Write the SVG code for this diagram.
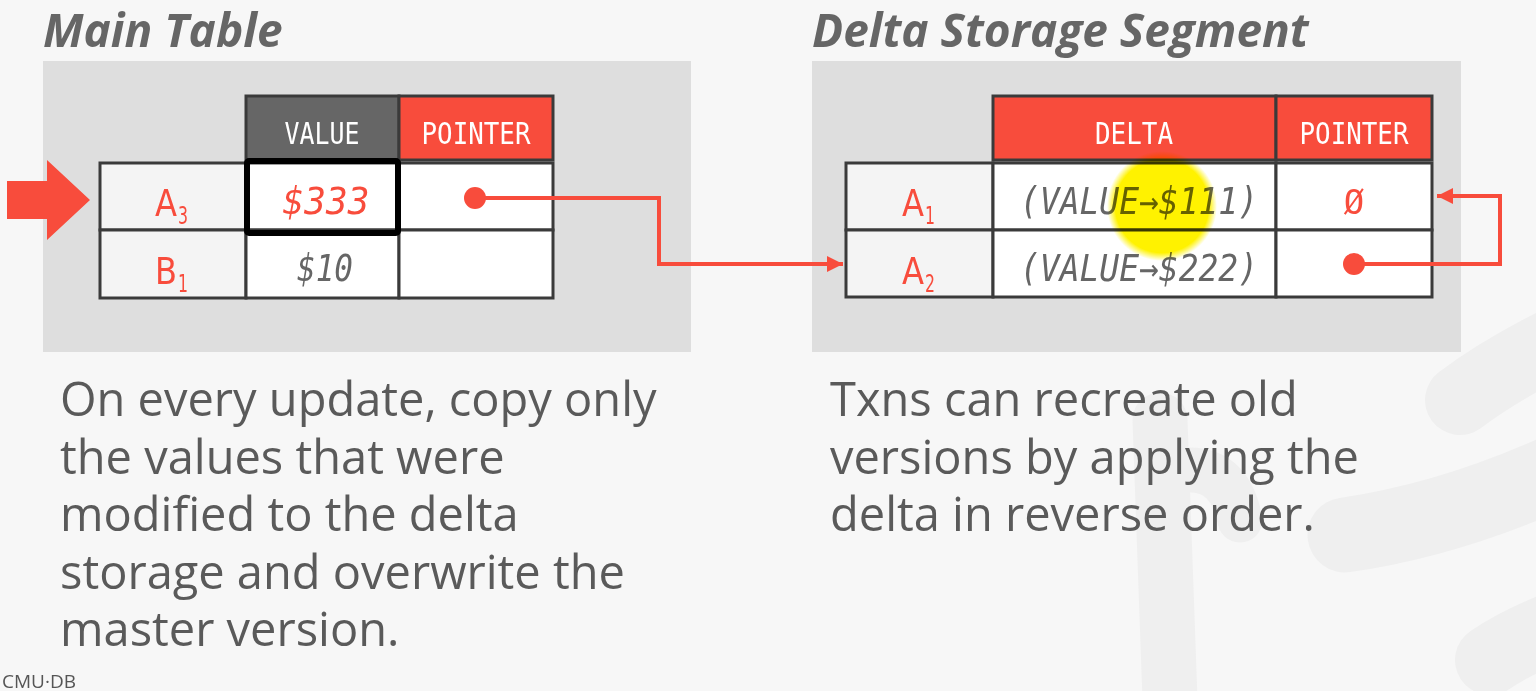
<svg xmlns="http://www.w3.org/2000/svg" width="1536" height="691" viewBox="0 0 1536 691">
<style>
.title{font-family:"Open Sans","Liberation Sans",sans-serif;font-weight:bold;font-style:italic;font-size:46px;fill:#666}
.panel{fill:#dedede}
.cell{fill:#fff;stroke:#3a3a3a;stroke-width:3}
.keycell{fill:#f4f4f4;stroke:#3a3a3a;stroke-width:3}
.hdr{font-family:"DejaVu Sans Mono","Liberation Mono",monospace;font-size:31px;fill:#fff;text-anchor:middle}
.key{font-family:"DejaVu Sans","Liberation Sans",sans-serif;font-size:37px;fill:#f84c3c}
.sub{font-family:"DejaVu Sans","Liberation Sans",sans-serif;font-size:24px;fill:#f84c3c}
.val{font-family:"DejaVu Sans Mono","Liberation Mono",monospace;font-style:italic;font-size:37px;fill:#666;text-anchor:middle}
.body{font-family:"Open Sans","Liberation Sans",sans-serif;font-size:47px;fill:#5a5a5a}
.conn{fill:none;stroke:#f84c3c;stroke-width:4;stroke-linejoin:miter}
.wm{fill:none;stroke:#efefef;stroke-linecap:round}
</style>
<defs>
<marker id="arr" viewBox="0 0 10 10" refX="10" refY="5" markerWidth="4" markerHeight="4" markerUnits="strokeWidth" orient="auto">
<path d="M0,0 L10,5 L0,10 z" fill="#f84c3c"/>
</marker>
<radialGradient id="hl" cx="0.5" cy="0.5" r="0.5">
<stop offset="0" stop-color="#fff200"/>
<stop offset="0.85" stop-color="#fff200"/>
<stop offset="1" stop-color="#fff200" stop-opacity="0"/>
</radialGradient>
</defs>
<rect width="1536" height="691" fill="#f7f7f7"/>
<g id="watermark">
<path class="wm" d="M1460,400 Q1500,370 1560,340" stroke-width="70"/>
<path class="wm" d="M1345,535 Q1450,520 1560,470" stroke-width="75"/>
<path class="wm" d="M1490,660 Q1520,640 1560,625" stroke-width="70"/>
<path class="wm" d="M1160,420 L1170,700" stroke-width="55"/>
<path class="wm" d="M1190,470 Q1230,470 1240,520" stroke-width="45"/>
</g>
<g id="main-table">
<text class="title" x="43" y="47">Main Table</text>
<rect class="panel" x="43" y="61" width="648" height="291"/>
<rect x="246" y="96" width="153" height="64" fill="#666" stroke="#3a3a3a" stroke-width="3"/>
<rect x="399" y="96" width="154" height="64" fill="#f84c3c" stroke="#3a3a3a" stroke-width="3"/>
<text class="hdr" x="322" y="144" textLength="75" lengthAdjust="spacingAndGlyphs">VALUE</text>
<text class="hdr" x="476" y="144" textLength="109" lengthAdjust="spacingAndGlyphs">POINTER</text>
<rect class="keycell" x="100" y="163" width="146" height="67"/>
<rect class="cell" x="246" y="163" width="153" height="67"/>
<rect class="cell" x="399" y="163" width="154" height="67"/>
<rect class="keycell" x="100" y="230" width="146" height="68"/>
<rect class="cell" x="246" y="230" width="153" height="68"/>
<rect class="cell" x="399" y="230" width="154" height="68"/>
<rect x="247" y="161" width="151" height="72" fill="none" stroke="#000" stroke-width="6" rx="2"/>
<text class="key" x="155" y="216" textLength="22" lengthAdjust="spacingAndGlyphs">A</text>
<text class="sub" x="178" y="224" textLength="10" lengthAdjust="spacingAndGlyphs">3</text>
<text class="key" x="155" y="284" textLength="22" lengthAdjust="spacingAndGlyphs">B</text>
<text class="sub" x="178" y="292" textLength="10" lengthAdjust="spacingAndGlyphs">1</text>
<text class="val" x="326" y="214" textLength="87" lengthAdjust="spacingAndGlyphs" style="fill:#f84c3c">$333</text>
<text class="val" x="325" y="281" textLength="56" lengthAdjust="spacingAndGlyphs">$10</text>
<circle cx="475" cy="198" r="11" fill="#f84c3c"/>
</g>
<g id="big-arrow">
<path d="M7,181 L47,181 L47,160 L90,200 L47,240 L47,219 L7,219 z" fill="#f84c3c"/>
</g>
<g id="delta-storage">
<text class="title" x="812" y="47">Delta Storage Segment</text>
<rect class="panel" x="812" y="61" width="649" height="291"/>
<rect x="993" y="96" width="283" height="64" fill="#f84c3c" stroke="#3a3a3a" stroke-width="3"/>
<rect x="1276" y="96" width="156" height="64" fill="#f84c3c" stroke="#3a3a3a" stroke-width="3"/>
<text class="hdr" x="1134" y="144" textLength="78" lengthAdjust="spacingAndGlyphs">DELTA</text>
<text class="hdr" x="1354" y="144" textLength="109" lengthAdjust="spacingAndGlyphs">POINTER</text>
<rect class="keycell" x="846" y="163" width="147" height="67"/>
<rect class="cell" x="993" y="163" width="283" height="67"/>
<rect class="cell" x="1276" y="163" width="156" height="67"/>
<rect class="keycell" x="846" y="230" width="147" height="67"/>
<rect class="cell" x="993" y="230" width="283" height="67"/>
<rect class="cell" x="1276" y="230" width="156" height="67"/>
<text class="key" x="902" y="216" textLength="22" lengthAdjust="spacingAndGlyphs">A</text>
<text class="sub" x="925" y="224" textLength="10" lengthAdjust="spacingAndGlyphs">1</text>
<text class="key" x="902" y="284" textLength="22" lengthAdjust="spacingAndGlyphs">A</text>
<text class="sub" x="925" y="292" textLength="10" lengthAdjust="spacingAndGlyphs">2</text>
<text class="val" x="1139" y="214" textLength="238" lengthAdjust="spacingAndGlyphs">(VALUE→$111)</text>
<text class="val" x="1139" y="281" textLength="238" lengthAdjust="spacingAndGlyphs">(VALUE→$222)</text>
<text x="1354" y="214" text-anchor="middle" style="font-family:'DejaVu Sans Mono',monospace;font-size:34px;fill:#f84c3c">Ø</text>
<circle cx="1354" cy="264" r="11" fill="#f84c3c"/>
</g>
<g id="highlight">
<circle cx="1162" cy="206" r="55" fill="url(#hl)" style="mix-blend-mode:multiply"/>
</g>
<g id="connectors">
<path class="conn" d="M475,198 L659,198 L659,264 L843,264" marker-end="url(#arr)"/>
<path class="conn" d="M1354,264 L1500,264 L1500,196 L1437,196" marker-end="url(#arr)"/>
</g>
<g id="captions">
<text class="body" x="60" y="416">On every update, copy only</text>
<text class="body" x="60" y="474">the values that were</text>
<text class="body" x="60" y="531">modified to the delta</text>
<text class="body" x="60" y="589">storage and overwrite the</text>
<text class="body" x="60" y="646">master version.</text>
<text class="body" x="830" y="416">Txns can recreate old</text>
<text class="body" x="830" y="474">versions by applying the</text>
<text class="body" x="830" y="531">delta in reverse order.</text>
</g>
<text x="2" y="688" style="font-family:'Open Sans','Liberation Sans',sans-serif;font-size:19px;fill:#555">CMU·DB</text>
</svg>
